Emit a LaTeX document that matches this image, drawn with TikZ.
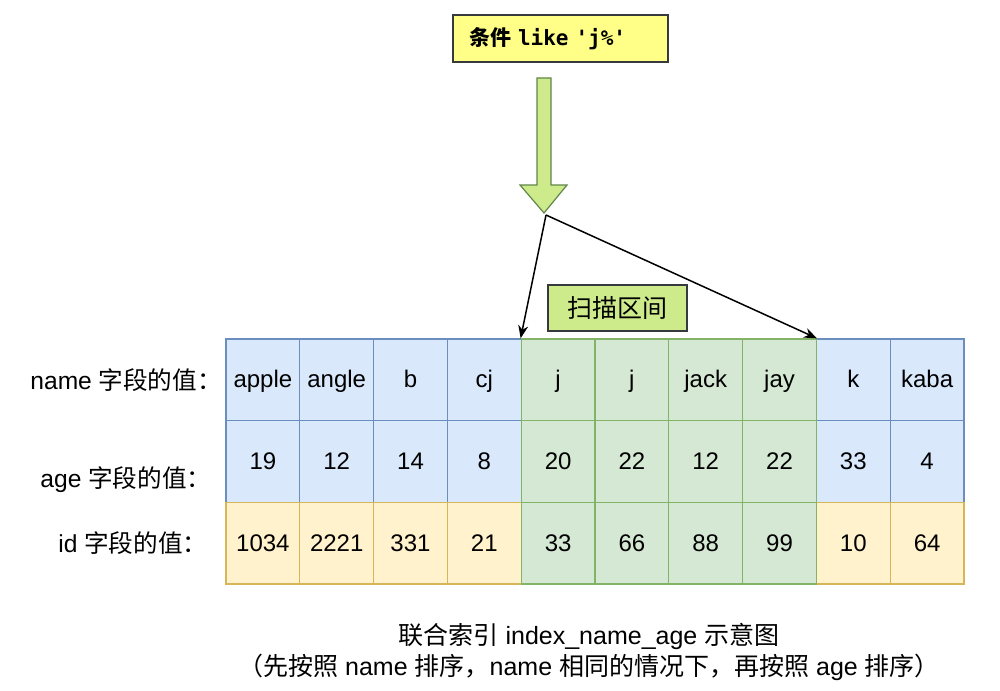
\documentclass[tikz,border=0pt]{standalone}
\usepackage{fontspec}
\setmainfont{Liberation Sans}
\setmonofont{DejaVu Sans Mono}
\newfontfamily\cjk{Noto Sans CJK SC}
\usetikzlibrary{arrows.meta}
\definecolor{bluefill}{HTML}{DAE8FC}
\definecolor{bluedraw}{HTML}{6C8EBF}
\definecolor{greenfill}{HTML}{D5E8D4}
\definecolor{greendraw}{HTML}{82B366}
\definecolor{yellowfill}{HTML}{FFF2CC}
\definecolor{yellowdraw}{HTML}{D6B656}
\definecolor{limefill}{HTML}{CDEB8B}
\definecolor{condfill}{HTML}{FFFF88}
\definecolor{darkline}{HTML}{36393D}
\begin{document}
\begin{tikzpicture}[x=0.5pt,y=-0.5pt,
  cell/.style={draw,minimum width=36.9pt,minimum height=40.85pt,inner sep=0pt,
    text height=9pt,text depth=1pt,font=\fontsize{12}{14}\selectfont,line width=0.6pt},
  bluecell/.style={cell,fill=bluefill,draw=bluedraw},
  greencell/.style={cell,fill=greenfill,draw=greendraw},
  yellowcell/.style={cell,fill=yellowfill,draw=yellowdraw},
  rowlabel/.style={anchor=west,inner sep=0pt,font=\fontsize{12.3}{14}\selectfont},
  >={Stealth[length=6.5pt,width=5pt]}]
\useasboundingbox (0,0) rectangle (1000,690);

% condition and big arrow
\node[draw=darkline,fill=condfill,line width=0.6pt,inner xsep=8pt,text width=91.5pt,align=left,
  minimum height=23.5pt,font=\fontsize{10.5}{12}\selectfont\ttfamily\bfseries] (cond) at (560.5,38.5)
  {{\cjk 条件} like 'j\%'};
\draw[fill=limefill,draw=greendraw!75!black,line width=0.6pt]
  (537,78)--(551,78)--(551,185)--(567,185)--(544,213)--(520,185)--(537,185)--cycle;
\coordinate (tip) at (546,215);

\node[draw=darkline,fill=limefill,line width=0.6pt,minimum width=69.5pt,minimum height=23pt,
  font=\fontsize{12.5}{14}\selectfont\cjk] (scan) at (617.5,308) {扫描区间};

% row labels
\node[rowlabel] (lname) at (30,380) {name {\cjk 字段的值：}};
\node[rowlabel] (lage) at (40,480) {age {\cjk 字段的值：}};
\node[rowlabel] (lid) at (58,543) {id {\cjk 字段的值：}};

% name row
\node[bluecell] (n0) at (262.9,379.8) {apple};
\node[bluecell] (n1) at (336.7,379.8) {angle};
\node[bluecell] (n2) at (410.5,379.8) {b};
\node[bluecell] (n3) at (484.3,379.8) {cj};
\node[bluecell] (n8) at (853.3,379.8) {k};
\node[bluecell] (n9) at (927.1,379.8) {kaba};
% age row
\node[bluecell] (a0) at (262.9,461.5) {19};
\node[bluecell] (a1) at (336.7,461.5) {12};
\node[bluecell] (a2) at (410.5,461.5) {14};
\node[bluecell] (a3) at (484.3,461.5) {8};
\node[bluecell] (a8) at (853.3,461.5) {33};
\node[bluecell] (a9) at (927.1,461.5) {4};
% id row
\node[yellowcell] (d0) at (262.9,543.2) {1034};
\node[yellowcell] (d1) at (336.7,543.2) {2221};
\node[yellowcell] (d2) at (410.5,543.2) {331};
\node[yellowcell] (d3) at (484.3,543.2) {21};
\node[yellowcell] (d8) at (853.3,543.2) {10};
\node[yellowcell] (d9) at (927.1,543.2) {64};
% scanned part
\node[greencell] (n4) at (558.1,379.8) {j};
\node[greencell] (n5) at (631.9,379.8) {j};
\node[greencell] (n6) at (705.7,379.8) {jack};
\node[greencell] (n7) at (779.5,379.8) {jay};
\node[greencell] (a4) at (558.1,461.5) {20};
\node[greencell] (a5) at (631.9,461.5) {22};
\node[greencell] (a6) at (705.7,461.5) {12};
\node[greencell] (a7) at (779.5,461.5) {22};
\node[greencell] (d4) at (558.1,543.2) {33};
\node[greencell] (d5) at (631.9,543.2) {66};
\node[greencell] (d6) at (705.7,543.2) {88};
\node[greencell] (d7) at (779.5,543.2) {99};

\draw[->,line width=0.75pt] (tip) -- (n4.north west);
\draw[->,line width=0.75pt] (tip) -- (n7.north east);

% caption
\node[align=center,font=\fontsize{12.5}{15.5}\selectfont] (cap) at (589,652)
  {{\cjk 联合索引} index\_name\_age {\cjk 示意图}\\
   {\cjk （先按照} name {\cjk 排序，}name {\cjk 相同的情况下，再按照} age {\cjk 排序）}};
\end{tikzpicture}
\end{document}
